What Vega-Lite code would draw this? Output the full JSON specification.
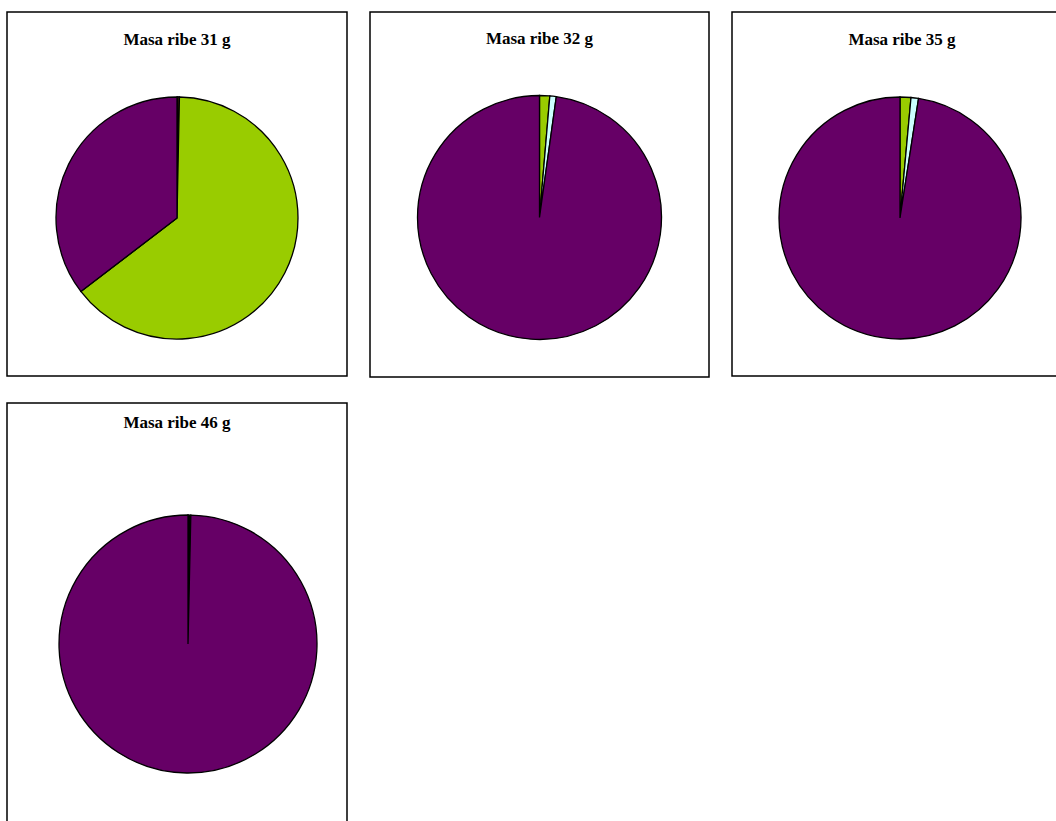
{
  "$schema": "https://vega.github.io/schema/vega-lite/v6.json",
  "padding": {"left": 6, "top": 11, "right": 0, "bottom": 0},
  "background": "white",
  "config": {
    "view": {"stroke": "black", "strokeWidth": 1.5},
    "title": {"font": "Liberation Serif", "fontSize": 17, "fontWeight": "bold", "color": "black", "anchor": "middle", "baseline": "alphabetic"}
  },
  "datasets": {
    "pies": [
      {"panel": "31", "cat": "A", "value": 0.12, "k": 1},
      {"panel": "31", "cat": "B", "value": 0.2, "k": 2},
      {"panel": "31", "cat": "C", "value": 64.3, "k": 3},
      {"panel": "31", "cat": "D", "value": 0.0, "k": 4},
      {"panel": "31", "cat": "E", "value": 35.38, "k": 5},
      {"panel": "32", "cat": "A", "value": 0.0, "k": 1},
      {"panel": "32", "cat": "B", "value": 0.0, "k": 2},
      {"panel": "32", "cat": "C", "value": 1.35, "k": 3},
      {"panel": "32", "cat": "D", "value": 0.85, "k": 4},
      {"panel": "32", "cat": "E", "value": 97.8, "k": 5},
      {"panel": "35", "cat": "A", "value": 0.0, "k": 1},
      {"panel": "35", "cat": "B", "value": 0.0, "k": 2},
      {"panel": "35", "cat": "C", "value": 1.45, "k": 3},
      {"panel": "35", "cat": "D", "value": 1.0, "k": 4},
      {"panel": "35", "cat": "E", "value": 97.55, "k": 5},
      {"panel": "46", "cat": "A", "value": 0.35, "k": 1},
      {"panel": "46", "cat": "B", "value": 0.0, "k": 2},
      {"panel": "46", "cat": "C", "value": 0.0, "k": 3},
      {"panel": "46", "cat": "D", "value": 0.0, "k": 4},
      {"panel": "46", "cat": "E", "value": 99.65, "k": 5}
    ]
  },
  "columns": 3,
  "spacing": {"column": 21, "row": 24},
  "concat": [
    {
      "width": 340, "height": 364,
      "view": {"stroke": "black", "strokeWidth": 1.5, "fill": "white"},
      "title": {"text": "Masa ribe 31 g", "offset": -37},
      "data": {"name": "pies"},
      "transform": [{"filter": "datum.panel === '31'"}],
      "mark": {"type": "arc", "outerRadius": 121, "stroke": "black", "strokeWidth": 1.3, "yOffset": 24},
      "encoding": {
        "theta": {"field": "value", "type": "quantitative", "stack": true},
        "order": {"field": "k", "type": "quantitative"},
        "color": {"field": "cat", "type": "nominal", "legend": null, "scale": {"domain": ["A", "B", "C", "D", "E"], "range": ["#000000", "#FF9900", "#99CC00", "#CCFFFF", "#660066"]}}
      }
    },
    {
      "width": 339, "height": 365,
      "view": {"stroke": "black", "strokeWidth": 1.5, "fill": "white"},
      "title": {"text": "Masa ribe 32 g", "offset": -36},
      "data": {"name": "pies"},
      "transform": [{"filter": "datum.panel === '32'"}],
      "mark": {"type": "arc", "outerRadius": 122, "stroke": "black", "strokeWidth": 1.3, "yOffset": 23},
      "encoding": {
        "theta": {"field": "value", "type": "quantitative", "stack": true},
        "order": {"field": "k", "type": "quantitative"},
        "color": {"field": "cat", "type": "nominal", "legend": null, "scale": {"domain": ["A", "B", "C", "D", "E"], "range": ["#000000", "#FF9900", "#99CC00", "#CCFFFF", "#660066"]}}
      }
    },
    {
      "width": 340, "height": 364,
      "view": {"stroke": "black", "strokeWidth": 1.5, "fill": "white"},
      "title": {"text": "Masa ribe 35 g", "offset": -37},
      "data": {"name": "pies"},
      "transform": [{"filter": "datum.panel === '35'"}],
      "mark": {"type": "arc", "outerRadius": 121, "stroke": "black", "strokeWidth": 1.3, "yOffset": 24, "xOffset": -2},
      "encoding": {
        "theta": {"field": "value", "type": "quantitative", "stack": true},
        "order": {"field": "k", "type": "quantitative"},
        "color": {"field": "cat", "type": "nominal", "legend": null, "scale": {"domain": ["A", "B", "C", "D", "E"], "range": ["#000000", "#FF9900", "#99CC00", "#CCFFFF", "#660066"]}}
      }
    },
    {
      "width": 340, "height": 440,
      "view": {"stroke": "black", "strokeWidth": 1.5, "fill": "white"},
      "title": {"text": "Masa ribe 46 g", "offset": -29},
      "data": {"name": "pies"},
      "transform": [{"filter": "datum.panel === '46'"}],
      "mark": {"type": "arc", "outerRadius": 129, "stroke": "black", "strokeWidth": 1.3, "yOffset": 21, "xOffset": 11},
      "encoding": {
        "theta": {"field": "value", "type": "quantitative", "stack": true},
        "order": {"field": "k", "type": "quantitative"},
        "color": {"field": "cat", "type": "nominal", "legend": null, "scale": {"domain": ["A", "B", "C", "D", "E"], "range": ["#000000", "#FF9900", "#99CC00", "#CCFFFF", "#660066"]}}
      }
    }
  ]
}
